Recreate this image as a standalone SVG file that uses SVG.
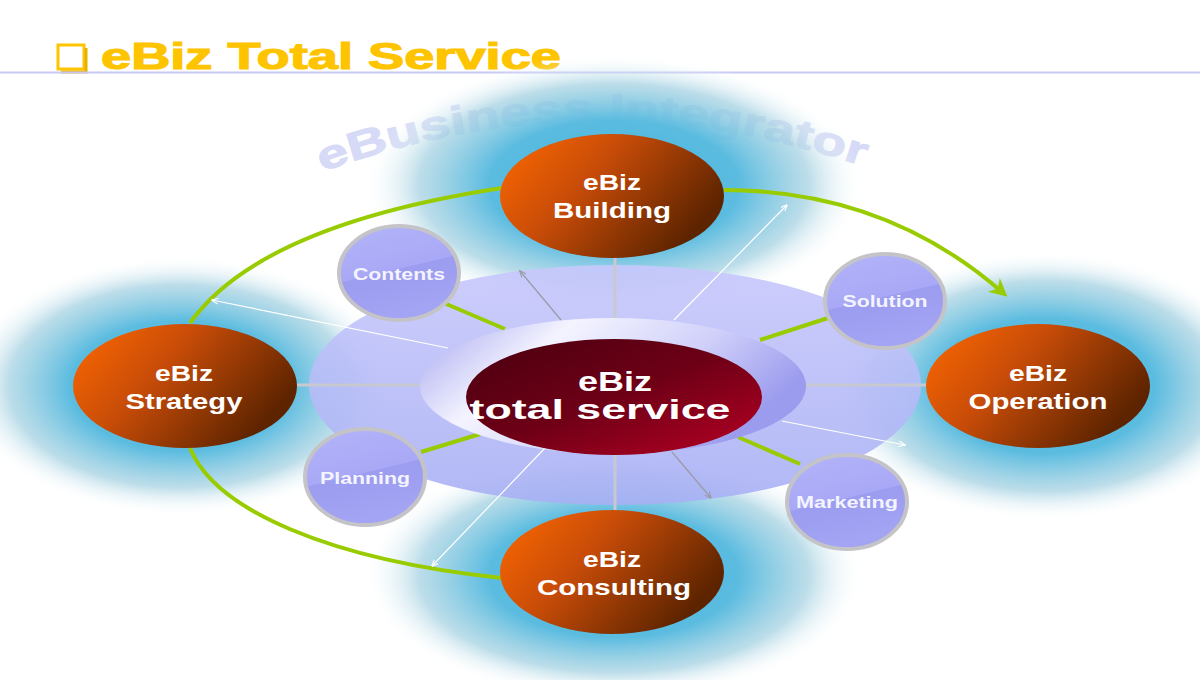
<svg xmlns="http://www.w3.org/2000/svg" width="1200" height="680" viewBox="0 0 1200 680">
<defs>
<style>
.outer{font-family:"Liberation Sans",Arial,sans-serif;font-weight:bold;font-size:22px;fill:#fff;text-anchor:middle}
.center{font-family:"Liberation Sans",Arial,sans-serif;font-weight:bold;font-size:27px;fill:#fff;text-anchor:middle}
.small{font-family:"Liberation Sans",Arial,sans-serif;font-weight:bold;font-size:16px;fill:#f4f4ff;text-anchor:middle}
.sat{stroke:#c4c4c8;stroke-width:4;fill:url(#satG)}
.green{stroke:#99cc00;stroke-width:4;fill:none}
.spoke{stroke:#c8c8d0;stroke-width:3;fill:none}
.thinW{stroke:#ffffff;stroke-width:1.2;fill:none;marker-end:url(#aW)}
.thinG{stroke:#9a9aa8;stroke-width:1.2;fill:none;marker-end:url(#aG)}
</style>
<radialGradient id="glow" cx="0.5" cy="0.5" r="0.5">
<stop offset="0" stop-color="#44b2da"/>
<stop offset="0.5" stop-color="#5bbce0"/>
<stop offset="0.78" stop-color="#a6d2e2" stop-opacity="0.75"/>
<stop offset="1" stop-color="#ffffff" stop-opacity="0"/>
</radialGradient>
<linearGradient id="orange" x1="0" y1="0" x2="1" y2="0.5">
<stop offset="0" stop-color="#ff6a00"/>
<stop offset="0.45" stop-color="#c84c08"/>
<stop offset="1" stop-color="#5e2400"/>
</linearGradient>
<linearGradient id="red" x1="0" y1="0" x2="1" y2="1">
<stop offset="0" stop-color="#4a0010"/>
<stop offset="0.5" stop-color="#6e0016"/>
<stop offset="1" stop-color="#b80024"/>
</linearGradient>
<linearGradient id="ring" x1="0" y1="0" x2="0" y2="1">
<stop offset="0" stop-color="#c8c8fc"/>
<stop offset="1" stop-color="#a8b0f4"/>
</linearGradient>
<linearGradient id="inner" x1="0" y1="0" x2="1" y2="0.4">
<stop offset="0" stop-color="#a4a4f0"/>
<stop offset="0.35" stop-color="#f4f4ff"/>
<stop offset="0.7" stop-color="#d0d0fa"/>
<stop offset="1" stop-color="#9c9cee"/>
</linearGradient>
<linearGradient id="satG" x1="0" y1="0" x2="0.3" y2="1">
<stop offset="0" stop-color="#b4b4fa"/>
<stop offset="0.55" stop-color="#a8a8f6"/>
<stop offset="0.56" stop-color="#9c9cf0"/>
<stop offset="1" stop-color="#a4a4f4"/>
</linearGradient>
<marker id="aW" viewBox="0 0 10 10" refX="9" refY="5" markerWidth="7" markerHeight="7" orient="auto" markerUnits="userSpaceOnUse">
<path d="M0 1 L10 5 L0 9" fill="none" stroke="#ffffff" stroke-width="1.5"/>
</marker>
<marker id="aG" viewBox="0 0 10 10" refX="9" refY="5" markerWidth="7" markerHeight="7" orient="auto" markerUnits="userSpaceOnUse">
<path d="M0 1 L10 5 L0 9" fill="none" stroke="#9a9aa8" stroke-width="1.5"/>
</marker>
<marker id="aGr" viewBox="0 0 10 10" refX="6" refY="5" markerWidth="18" markerHeight="18" orient="auto" markerUnits="userSpaceOnUse">
<path d="M0 0 L10 5 L0 10 L3 5 Z" fill="#99cc00"/>
</marker>
<path id="wm" d="M322 172 Q 595 72 874 170"/>
</defs>
<rect width="1200" height="680" fill="#ffffff"/>
<g id="title">
<rect x="58" y="45" width="26" height="24" fill="#ffffff" stroke="#ffc400" stroke-width="3"/>
<path d="M86 48 V72 H61" fill="none" stroke="#e8b000" stroke-width="3"/>
<text x="101" y="69" font-family="Liberation Sans,Arial,sans-serif" font-weight="bold" font-size="37" fill="#ffc400" stroke="#ffc400" stroke-width="1.2" textLength="460" lengthAdjust="spacingAndGlyphs">eBiz Total Service</text>
<line x1="0" y1="72.5" x2="1200" y2="72.5" stroke="#c8c8f4" stroke-width="2"/>
</g>
<g id="watermark">
<text font-family="Liberation Sans,Arial,sans-serif" font-weight="bold" font-size="40" fill="#d6daf6" stroke="#d6daf6" stroke-width="1"><textPath href="#wm" textLength="552" lengthAdjust="spacingAndGlyphs">eBusiness Integrator</textPath></text>
</g>
<g id="glows">
<ellipse cx="614" cy="185" rx="250" ry="130" fill="url(#glow)"/>
<ellipse cx="180" cy="386" rx="220" ry="130" fill="url(#glow)"/>
<ellipse cx="1045" cy="386" rx="220" ry="135" fill="url(#glow)"/>
<ellipse cx="614" cy="575" rx="250" ry="125" fill="url(#glow)"/>
</g>
<g id="ring-group">
<ellipse cx="615" cy="385" rx="306" ry="120" fill="url(#ring)" opacity="0.9"/>
</g>
<g id="connectors">
<line class="spoke" x1="615" y1="256" x2="615" y2="320"/>
<line class="spoke" x1="615" y1="452" x2="615" y2="514"/>
<line class="spoke" x1="297" y1="385" x2="422" y2="385"/>
<line class="spoke" x1="803" y1="385" x2="928" y2="385"/>
<line class="green" x1="444" y1="303" x2="505" y2="329"/>
<line class="green" x1="828" y1="318" x2="760" y2="340"/>
<line class="green" x1="421" y1="452" x2="480" y2="434"/>
<line class="green" x1="800" y1="464" x2="738" y2="437"/>
<path class="green" d="M190 323 Q 260 225 502 188"/>
<path class="green" d="M724 190 Q 885 190 1002 292" marker-end="url(#aGr)"/>
<path class="green" d="M190 448 C 215 510, 330 560, 502 578"/>
</g>
<g id="inner-ring">
<ellipse cx="613" cy="386" rx="193" ry="68" fill="url(#inner)"/>
</g>
<g id="arrows">
<line class="thinW" x1="448" y1="348" x2="212" y2="300"/>
<line class="thinG" x1="561" y1="320" x2="520" y2="271"/>
<line class="thinW" x1="674" y1="320" x2="787" y2="205"/>
<line class="thinW" x1="782" y1="421" x2="905" y2="445"/>
<line class="thinG" x1="672" y1="452" x2="711" y2="498"/>
<line class="thinW" x1="546" y1="447" x2="432" y2="566"/>
</g>
<g id="node-center">
<ellipse cx="614" cy="397" rx="148" ry="58" fill="url(#red)"/>
<text class="center" x="615" y="391" textLength="74" lengthAdjust="spacingAndGlyphs">eBiz</text>
<text class="center" x="600" y="419" textLength="261" lengthAdjust="spacingAndGlyphs">total service</text>
</g>
<g id="node-building">
<ellipse cx="612" cy="196" rx="112" ry="62" fill="url(#orange)"/>
<text class="outer" x="612" y="190" textLength="58" lengthAdjust="spacingAndGlyphs">eBiz</text>
<text class="outer" x="612" y="218" textLength="118" lengthAdjust="spacingAndGlyphs">Building</text>
</g>
<g id="node-strategy">
<ellipse cx="185" cy="386" rx="112" ry="62" fill="url(#orange)"/>
<text class="outer" x="184" y="381" textLength="58" lengthAdjust="spacingAndGlyphs">eBiz</text>
<text class="outer" x="184" y="409" textLength="117" lengthAdjust="spacingAndGlyphs">Strategy</text>
</g>
<g id="node-operation">
<ellipse cx="1038" cy="386" rx="112" ry="62" fill="url(#orange)"/>
<text class="outer" x="1038" y="381" textLength="58" lengthAdjust="spacingAndGlyphs">eBiz</text>
<text class="outer" x="1038" y="409" textLength="139" lengthAdjust="spacingAndGlyphs">Operation</text>
</g>
<g id="node-consulting">
<ellipse cx="612" cy="572" rx="112" ry="62" fill="url(#orange)"/>
<text class="outer" x="612" y="567" textLength="58" lengthAdjust="spacingAndGlyphs">eBiz</text>
<text class="outer" x="614" y="595" textLength="154" lengthAdjust="spacingAndGlyphs">Consulting</text>
</g>
<g id="node-contents">
<ellipse class="sat" cx="399" cy="273" rx="60" ry="47"/>
<text class="small" x="399" y="280" textLength="92" lengthAdjust="spacingAndGlyphs">Contents</text>
</g>
<g id="node-solution">
<ellipse class="sat" cx="885" cy="301" rx="60" ry="47"/>
<text class="small" x="885" y="307" textLength="85" lengthAdjust="spacingAndGlyphs">Solution</text>
</g>
<g id="node-planning">
<ellipse class="sat" cx="365" cy="477" rx="60" ry="48"/>
<text class="small" x="365" y="484" textLength="90" lengthAdjust="spacingAndGlyphs">Planning</text>
</g>
<g id="node-marketing">
<ellipse class="sat" cx="847" cy="502" rx="60" ry="47"/>
<text class="small" x="847" y="508" textLength="102" lengthAdjust="spacingAndGlyphs">Marketing</text>
</g>
</svg>
